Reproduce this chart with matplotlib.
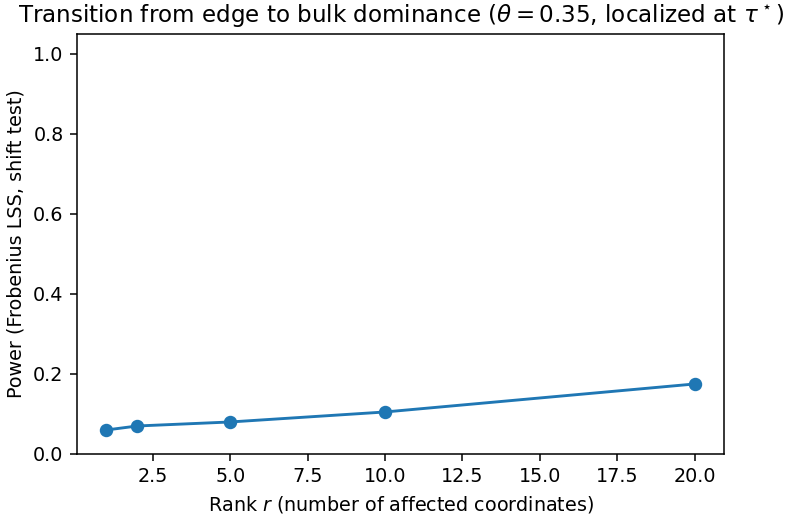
import matplotlib
matplotlib.use("Agg")
import matplotlib.pyplot as plt

# data
ranks = [1, 2, 5, 10, 20]
power = [0.06, 0.07, 0.08, 0.105, 0.175]

# default styling, rendered at a higher dpi so everything scales up
DPI = 138
fig, ax = plt.subplots(figsize=(788 / DPI, 518 / DPI), dpi=DPI)
ax.plot(ranks, power, marker="o")

ax.set_ylim(0, 1.05)
ax.set_xlabel("Rank $r$ (number of affected coordinates)")
ax.set_ylabel("Power (Frobenius LSS, shift test)")
ax.set_title(r"Transition from edge to bulk dominance ($\theta = 0.35$, localized at $\tau^\star$)")

fig.subplots_adjust(left=0.0977, right=0.9188, top=0.9344, bottom=0.1236)
fig.savefig("out.png", dpi=DPI)
